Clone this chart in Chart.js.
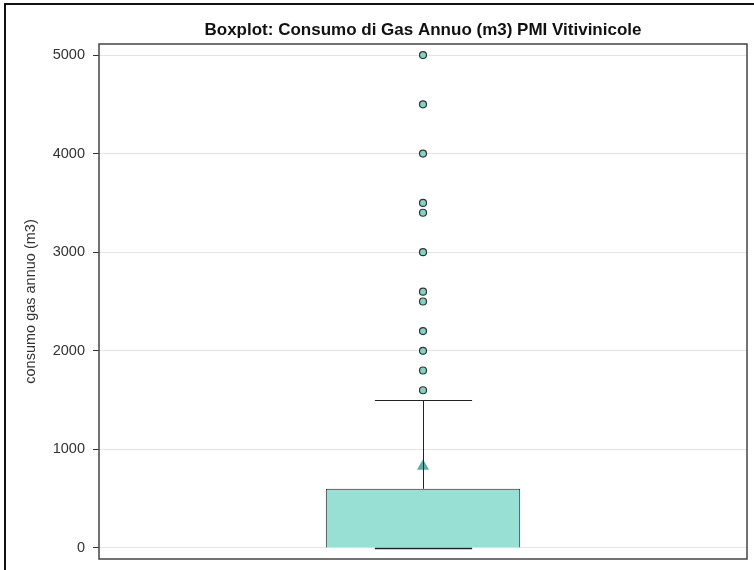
<!DOCTYPE html>
<html>
<head>
<meta charset="utf-8">
<script src="https://cdn.jsdelivr.net/npm/chart.js@4.4.1/dist/chart.umd.min.js"></script>
<style>
  html, body { margin: 0; padding: 0; background: #fff; }
  #wrap { position: relative; width: 754px; height: 570px; }
  #frame { position: absolute; left: 4px; top: 3px; right: 0; bottom: 0;
           border-left: 2px solid #111; border-top: 2px solid #111; pointer-events: none; }
</style>
</head>
<body>
<div id="wrap">
  <canvas id="boxChart" width="754" height="570"></canvas>
  <div id="frame"></div>
</div>
<script>
// data
const categories = [""];
const whiskerLow = [0];
const q1 = [0];
const median = [0];
const q3 = [600];
const whiskerHigh = [1500];
const mean = [830];
const outliers = [1600, 1800, 2000, 2200, 2500, 2600, 3000, 3400, 3500, 4000, 4500, 5000];
const yTicks = [0, 1000, 2000, 3000, 4000, 5000];

const boxFill = "#98dfd4";
const lineCol = "#222";

// whiskers, caps and median line on top of the floating bar
const boxExtras = {
  id: "boxExtras",
  afterDatasetsDraw(chart) {
    const ctx = chart.ctx;
    const y = chart.scales.y;
    const meta = chart.getDatasetMeta(0);
    meta.data.forEach(function (bar, i) {
      const cx = Math.round(bar.x) + 0.5;
      const half = bar.width / 4;
      ctx.save();
      ctx.strokeStyle = lineCol;
      ctx.lineWidth = 1;
      ctx.beginPath();
      ctx.moveTo(cx, y.getPixelForValue(q3[i]));
      ctx.lineTo(cx, y.getPixelForValue(whiskerHigh[i]));
      ctx.moveTo(cx, y.getPixelForValue(q1[i]));
      ctx.lineTo(cx, y.getPixelForValue(whiskerLow[i]));
      let yh = Math.round(y.getPixelForValue(whiskerHigh[i])) + 0.5;
      ctx.moveTo(cx - half, yh);
      ctx.lineTo(cx + half, yh);
      let yl = Math.round(y.getPixelForValue(whiskerLow[i])) + 0.5;
      ctx.moveTo(cx - half, yl);
      ctx.lineTo(cx + half, yl);
      ctx.stroke();
      ctx.lineWidth = 1.5;
      ctx.beginPath();
      let ym = Math.round(y.getPixelForValue(median[i])) + 0.5;
      ctx.moveTo(cx - half, ym);
      ctx.lineTo(cx + half, ym);
      ctx.stroke();
      ctx.restore();
    });
  },
  afterDraw(chart) {
    const a = chart.chartArea;
    const ctx = chart.ctx;
    ctx.save();
    ctx.strokeStyle = "#444";
    ctx.lineWidth = 1.5;
    ctx.strokeRect(a.left, a.top, a.right - a.left, a.bottom - a.top);
    ctx.restore();
  }
};

new Chart(document.getElementById("boxChart"), {
  type: "bar",
  data: {
    labels: categories,
    datasets: [
      {
        label: "box",
        data: q1.map(function (v, i) { return [v, q3[i]]; }),
        backgroundColor: boxFill,
        borderColor: lineCol,
        borderWidth: 1,
        borderSkipped: "start",
        barPercentage: 0.3,
        categoryPercentage: 1,
        order: 2
      },
      {
        type: "scatter",
        label: "outliers",
        data: outliers.map(function (v) { return { x: categories[0], y: v }; }),
        pointRadius: 3.5,
        pointBackgroundColor: "#7fd4c4",
        pointBorderColor: "#333",
        pointBorderWidth: 1.2,
        order: 1
      },
      {
        type: "scatter",
        label: "mean",
        data: mean.map(function (v, i) { return { x: categories[i], y: v }; }),
        pointStyle: "triangle",
        pointRadius: 7,
        pointBackgroundColor: "#62a9aa",
        pointBorderColor: "#62a9aa",
        pointBorderWidth: 0,
        order: 0
      }
    ]
  },
  options: {
    responsive: false,
    animation: false,
    layout: { padding: { left: 0, right: 4, top: 0, bottom: 0 } },
    plugins: {
      legend: { display: false },
      tooltip: { enabled: false },
      title: {
        display: true,
        fullSize: false,
        text: "Boxplot: Consumo di Gas Annuo (m3) PMI Vitivinicole",
        color: "#111",
        font: { family: "Liberation Sans", size: 17, weight: "bold" },
        padding: { top: 20, bottom: 3.6 }
      }
    },
    scales: {
      x: {
        type: "category",
        grid: { display: false },
        border: { display: false },
        ticks: { display: false },
        afterFit: function (s) { s.height = 11; }
      },
      y: {
        type: "linear",
        min: -112,
        max: 5112,
        afterBuildTicks: function (s) { s.ticks = yTicks.map(function (v) { return { value: v }; }); },
        afterFit: function (s) { s.width = 99; s.paddingTop = 0; s.paddingBottom = 0; },
        grid: { color: "#e4e4e4", lineWidth: 1, tickColor: "#333", tickLength: 6 },
        border: { display: false },
        ticks: {
          color: "#333",
          padding: 8,
          font: { family: "Liberation Sans", size: 14.5 },
          callback: function (v) { return String(v); }
        },
        title: {
          display: true,
          text: "consumo gas annuo (m3)",
          color: "#333",
          font: { family: "Liberation Sans", size: 14.5 },
          padding: { top: 22, bottom: 0 }
        }
      }
    }
  },
  plugins: [boxExtras]
});
</script>
</body>
</html>
